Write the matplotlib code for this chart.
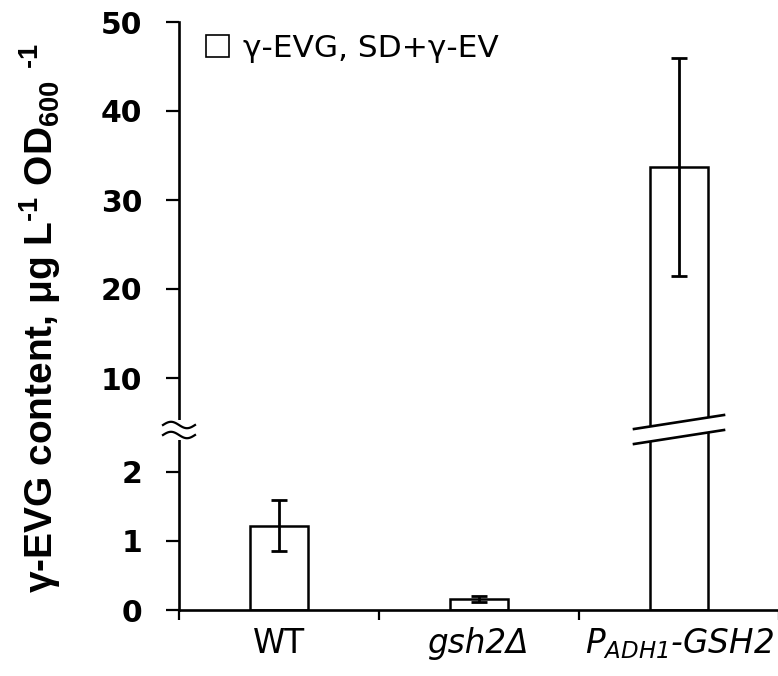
import numpy as np
import matplotlib
matplotlib.use("Agg")
import matplotlib.pyplot as plt
from matplotlib.patches import Patch, Polygon, Rectangle
from matplotlib.lines import Line2D

plt.rcParams['font.family'] = ['DejaVu Sans']
plt.rcParams['mathtext.fontset'] = 'custom'
plt.rcParams['mathtext.rm'] = 'Liberation Sans:bold'
plt.rcParams['mathtext.it'] = 'Liberation Sans:italic'
plt.rcParams['mathtext.bf'] = 'Liberation Sans:bold'
plt.rcParams['mathtext.sf'] = 'DejaVu Sans:italic'

# data
strains = ['WT', 'gsh2Δ', r'$\mathsf{P}_{\mathsf{ADH1}}$-GSH2']
evg_mean = [1.22, 0.16, 33.7]
evg_err = [0.37, 0.045, 12.2]
low_ticks = [0, 1, 2]
high_ticks = [10, 20, 30, 40, 50]
legend_label = 'γ-EVG, SD+γ-EV'
ylabel = r'γ-EVG content, μg L$^{\text{-}\mathbf{1}}$ OD$_{\mathbf{600}}$ $^{\text{-}\mathbf{1}}$'

W, H = 778, 676
fig = plt.figure(figsize=(W / 100, H / 100), dpi=100)

def px_box(left, top, right, bottom):
    return [left / W, 1 - bottom / H, (right - left) / W, (bottom - top) / H]

ax_lo = fig.add_axes(px_box(179, 430, 779, 610))
ax_hi = fig.add_axes(px_box(179, 22, 779, 430))

x = np.arange(len(strains))
lw_spine = 1.9
tick_fs = 21.5
for ax in (ax_lo, ax_hi):
    ax.bar(x, evg_mean, width=0.29, color='white', edgecolor='black', linewidth=1.8, zorder=1)
    ax.errorbar(x, evg_mean, yerr=evg_err, fmt='none', ecolor='black',
                elinewidth=2.0, capsize=6, capthick=2.0, zorder=2)
    ax.set_xlim(-0.5, 2.5)
    ax.spines['top'].set_visible(False)
    ax.spines['right'].set_visible(False)
    ax.spines['left'].set_linewidth(lw_spine)
    ax.spines['bottom'].set_linewidth(lw_spine)
    ax.tick_params(axis='y', direction='out', length=9.5, width=1.6, pad=17)

ax_lo.set_ylim(0, (610 - 430) / 69)
ax_lo.set_yticks(low_ticks)
ax_lo.set_yticklabels([str(v) for v in low_ticks], fontweight='bold', fontsize=tick_fs)
ax_hi.set_ylim(10 - (430 - 378) / 8.9, 50)
ax_hi.set_yticks(high_ticks)
ax_hi.set_yticklabels([str(v) for v in high_ticks], fontweight='bold', fontsize=tick_fs)

ax_hi.spines['bottom'].set_visible(False)
ax_hi.tick_params(axis='x', bottom=False, labelbottom=False)

ax_lo.set_xticks([-0.5, 0.5, 1.5, 2.5])
ax_lo.set_xticklabels([])
ax_lo.set_xticks(x, minor=True)
ax_lo.set_xticklabels(strains, minor=True, fontsize=23.5)
ax_lo.tick_params(axis='x', which='major', direction='out', length=7, width=1.6)
ax_lo.tick_params(axis='x', which='minor', length=0, pad=12)
for i, t in enumerate(ax_lo.get_xticklabels(minor=True)):
    if i > 0:
        t.set_fontstyle('italic')

ax_hi.legend(handles=[Patch(facecolor='white', edgecolor='black', linewidth=1.2,
                            label=legend_label)],
             loc='upper left', bbox_to_anchor=(206 / W, 1 - 34 / H),
             bbox_transform=fig.transFigure, frameon=False, fontsize=22.5,
             handlelength=0.72, handleheight=0.72, handletextpad=0.45,
             borderpad=0, borderaxespad=0)

fig.text(40 / W, 1 - 318 / H, ylabel, rotation=90, fontsize=28,
         fontweight='bold', family='Liberation Sans', ha='center', va='center')

# break marks, placed from the axes transforms (display pixels)
fig.canvas.draw()
xb, yb = ax_hi.transAxes.transform((0, 0))

# squiggle on the y axis
fig.add_artist(Rectangle((xb - 5, yb - 10), 10, 20, transform=None,
                         facecolor='white', edgecolor='none', zorder=5))
t = np.linspace(0, 1, 60)
for dy in (5, -5):
    fig.add_artist(Line2D(xb - 16 + 32 * t, yb + dy + 3.2 * np.sin(2 * np.pi * t),
                          transform=None, color='black', lw=1.6, zorder=6))

# slanted break across the tall bar
xc = ax_hi.transData.transform((x[2], 0))[0]
half = 45
slope = 14 / 90
xs = np.array([xc - half, xc + half])
up = yb + 8 + slope * (xs - xc)
dn = yb - 7 + slope * (xs - xc)
fig.add_artist(Polygon([[xs[0], dn[0]], [xs[1], dn[1]], [xs[1], up[1]], [xs[0], up[0]]],
                       closed=True, transform=None, facecolor='white',
                       edgecolor='none', zorder=5))
fig.add_artist(Line2D(xs, up, transform=None, color='black', lw=1.9, zorder=6))
fig.add_artist(Line2D(xs, dn, transform=None, color='black', lw=1.9, zorder=6))

fig.savefig('out.png', dpi=100)
